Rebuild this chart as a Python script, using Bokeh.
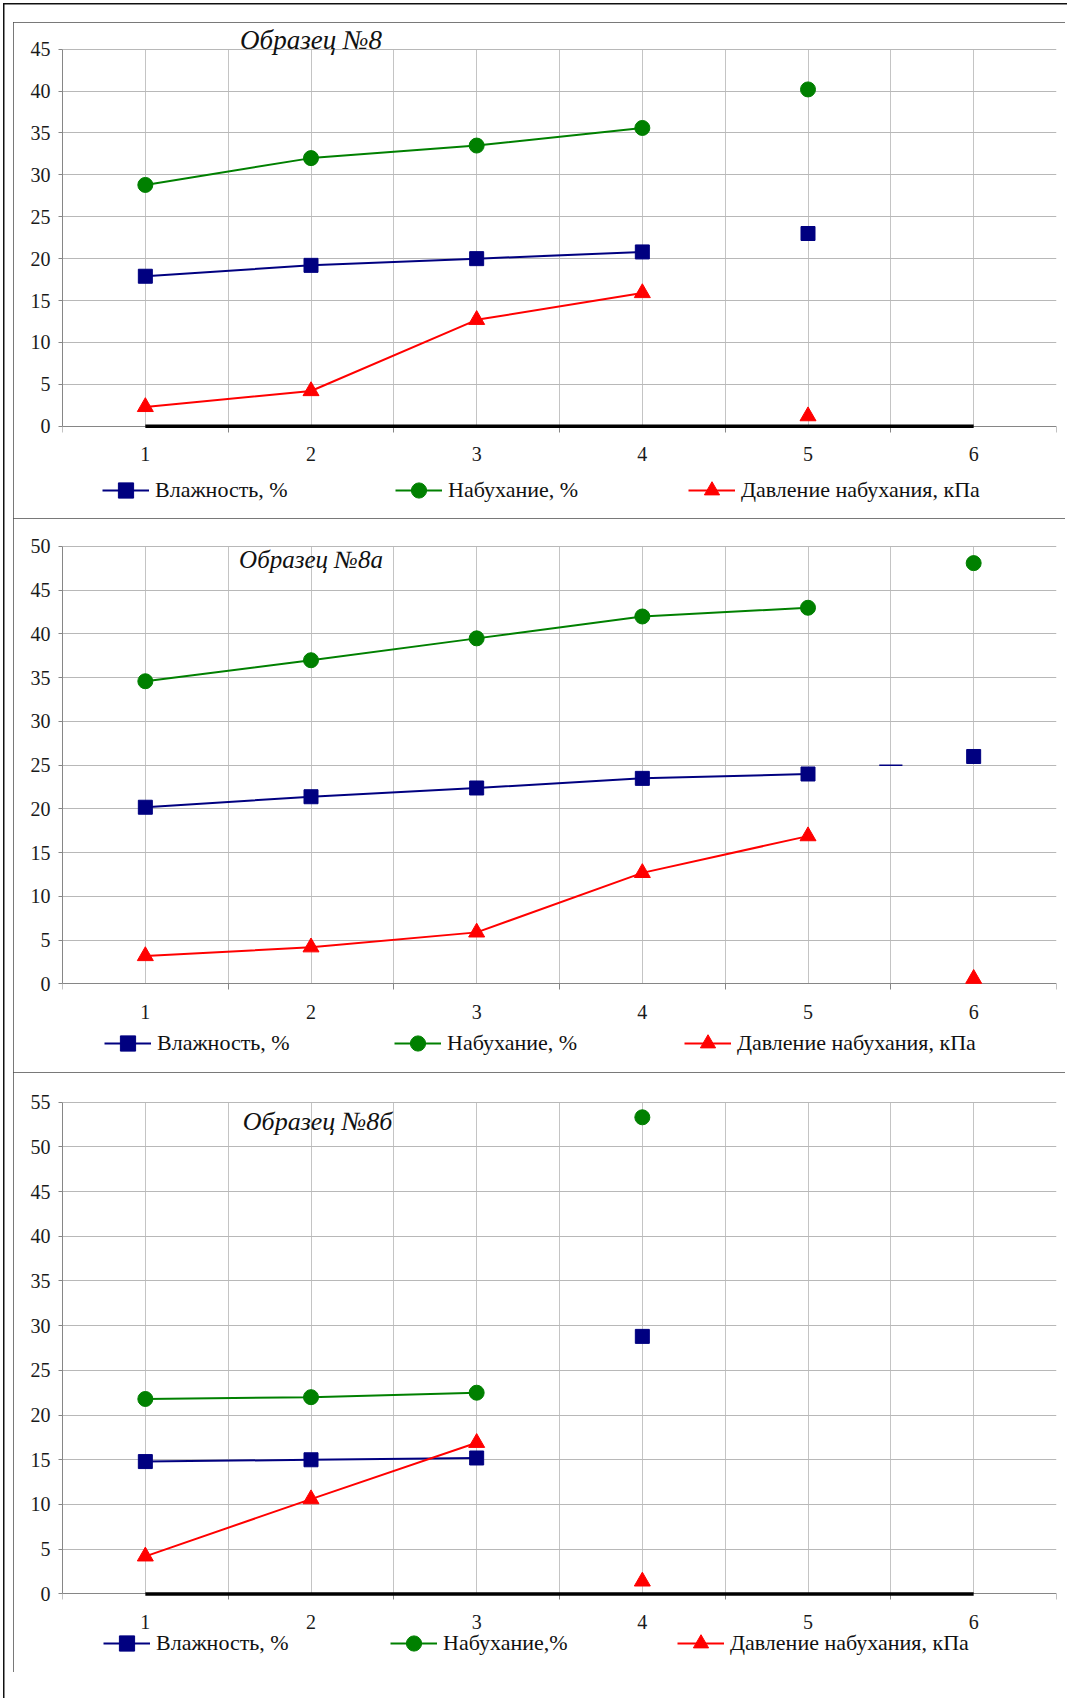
from bokeh.plotting import figure
from bokeh.layouts import column
from bokeh.models import FixedTicker, Legend, LegendItem, Label, Range1d
from bokeh.embed import file_html
from bokeh.resources import INLINE

# ---- data ----
x_ticks = [1, 2, 3, 4, 5, 6]
x_tick_labels = ["1", "2", "3", "4", "5", "6"]

legend_moisture = "Влажность, %"
legend_swelling = "Набухание, %"
legend_swelling_b = "Набухание,%"
legend_pressure = "Давление набухания, кПа"

# Образец №8
s8_title = "Образец №8"
s8_x = [1, 2, 3, 4, 5]
s8_moisture = [17.9, 19.2, 20.0, 20.8, 23.0]
s8_swelling = [28.8, 32.0, 33.5, 35.6, 40.2]
s8_pressure = [2.3, 4.2, 12.7, 15.9, 1.2]
s8_joined = 4          # points joined by a line; the rest stand alone
s8_ymax = 45

# Образец №8а
s8a_title = "Образец №8а"
s8a_x = [1, 2, 3, 4, 5, 6]
s8a_moisture = [20.2, 21.4, 22.4, 23.5, 24.0, 26.0]
s8a_swelling = [34.6, 37.0, 39.5, 42.0, 43.0, 48.1]
s8a_pressure = [3.2, 4.2, 5.9, 12.7, 16.9, 0.6]
s8a_joined = 5
s8a_ymax = 50
s8a_stub_x = [5.43, 5.57]
s8a_stub_y = [25.0, 25.0]

# Образец №8б
s8b_title = "Образец №8б"
s8b_x = [1, 2, 3, 4]
s8b_moisture = [14.8, 15.0, 15.2, 28.8]
s8b_swelling = [21.8, 22.0, 22.5, 53.3]
s8b_pressure = [4.2, 10.6, 16.9, 1.4]
s8b_joined = 3
s8b_ymax = 55

baseline_x = [1, 6]
baseline_y = [0, 0]

# ---- styling ----
NAVY = "#000080"
GREEN = "#008000"
RED = "#ff0000"
SERIF = "Liberation Serif"
AXIS_GREY = "#868686"
GRID_GREY = "#c4c4c4"


def make_panel(title, xs, moist, swell, press, joined, ymax, y_span, height,
               top, title_xy, title_size, legend_loc, legend_pitch,
               swell_label, baseline=True, stub=None):
    # the frame covers the whole card: room for the title above ymax and
    # for the category labels and legend below zero
    p = figure(width=1052, height=height,
               x_range=Range1d(0.5, 6.5), y_range=Range1d(*y_span),
               output_backend="svg", toolbar_location=None,
               min_border_left=49, min_border_right=9,
               min_border_top=top, min_border_bottom=2,
               background_fill_color="white", border_fill_color="white")
    p.outline_line_color = None
    p.styles = {"outline": "1.5px solid #4d4d4d", "outline-offset": "-1.5px"}

    # category axis pinned at zero: labels on categories, ticks between them
    half = [0.5 + i for i in range(7)]
    for ax in p.xaxis:
        ax.fixed_location = 0
        ax.ticker = FixedTicker(ticks=x_ticks, minor_ticks=half)
        ax.major_label_overrides = {t: l for t, l in zip(x_ticks, x_tick_labels)}
        ax.major_tick_line_color = None
        ax.major_tick_out = 0
        ax.major_tick_in = 0
        ax.minor_tick_out = 6
        ax.minor_tick_in = 0
        ax.minor_tick_line_color = AXIS_GREY
        ax.axis_line_color = AXIS_GREY
        ax.major_label_standoff = 15
        ax.major_label_text_font = SERIF
        ax.major_label_text_font_size = "20px"
        ax.major_label_text_color = "#1a1a1a"

    for ax in p.yaxis:
        ax.ticker = FixedTicker(ticks=list(range(0, ymax + 1, 5)))
        ax.bounds = (0, ymax)
        ax.major_tick_out = 4
        ax.major_tick_in = 0
        ax.minor_tick_line_color = None
        ax.major_tick_line_color = AXIS_GREY
        ax.axis_line_color = AXIS_GREY
        ax.major_label_standoff = 8
        ax.major_label_text_font = SERIF
        ax.major_label_text_font_size = "20px"
        ax.major_label_text_color = "#1a1a1a"

    p.xgrid.ticker = FixedTicker(ticks=[1 + 0.5 * i for i in range(11)])
    p.xgrid.cross_bounds = (0, ymax)
    p.xgrid.grid_line_color = GRID_GREY
    p.ygrid.ticker = FixedTicker(ticks=list(range(5, ymax + 1, 5)))
    p.ygrid.grid_line_color = "#b8b8b8"

    if baseline:
        p.line(baseline_x, baseline_y, line_color="black", line_width=3.5,
               level="annotation")
    if stub is not None:
        p.line(stub[0], stub[1], line_color=NAVY, line_width=1.5)

    series = [
        (moist, NAVY, "square", 14, legend_moisture),
        (swell, GREEN, "circle", 15, swell_label),
        (press, RED, "triangle", 16, legend_pressure),
    ]
    items = []
    for vals, color, marker, size, label in series:
        ln = p.line(xs[:joined], vals[:joined], line_color=color, line_width=2)
        sc = p.scatter(xs, vals, marker=marker, size=size,
                       fill_color=color, line_color=color, level="annotation")
        items.append(LegendItem(label=label, renderers=[ln, sc]))

    leg = Legend(items=items, location=legend_loc, orientation="horizontal",
                 padding=0, margin=0, spacing=0,
                 glyph_width=47, glyph_height=38, label_height=38,
                 label_standoff=6, label_width=legend_pitch - 53,
                 label_text_font=SERIF, label_text_font_size="22px",
                 label_text_color="#111111",
                 border_line_color=None, background_fill_alpha=0)
    p.add_layout(leg)

    p.add_layout(Label(x=title_xy[0], y=title_xy[1], text=title,
                       text_font=SERIF, text_font_style="italic",
                       text_font_size=title_size, text_color="#111111",
                       text_align="center", text_baseline="middle"))
    return p


p1 = make_panel(s8_title, s8_x, s8_moisture, s8_swelling, s8_pressure,
                s8_joined, s8_ymax, y_span=(-10.78, 47.95), height=496, top=2,
                title_xy=(2.0, 46.15), title_size="27px",
                legend_loc=(40, 7), legend_pitch=293,
                swell_label=legend_swelling)
p2 = make_panel(s8a_title, s8a_x, s8a_moisture, s8a_swelling, s8a_pressure,
                s8a_joined, s8a_ymax, y_span=(-9.886, 52.857), height=554,
                top=3, title_xy=(2.0, 48.5), title_size="25px",
                legend_loc=(42, 8), legend_pitch=290,
                swell_label=legend_swelling, baseline=False,
                stub=(s8a_stub_x, s8a_stub_y))
p3 = make_panel(s8b_title, s8b_x, s8b_moisture, s8b_swelling, s8b_pressure,
                s8b_joined, s8b_ymax, y_span=(-8.566, 57.975), height=600,
                top=3, title_xy=(2.04, 52.8), title_size="26px",
                legend_loc=(41, 8), legend_pitch=287,
                swell_label=legend_swelling_b)

page = column(p1, p2, p3, spacing=0, margin=(22, 0, 0, 13))
page.styles = {"box-shadow": "15.5px 6.5px 0 24px white, 14px 5px 0 24px #111111"}

open("out.html", "w").write(file_html(page, INLINE))
